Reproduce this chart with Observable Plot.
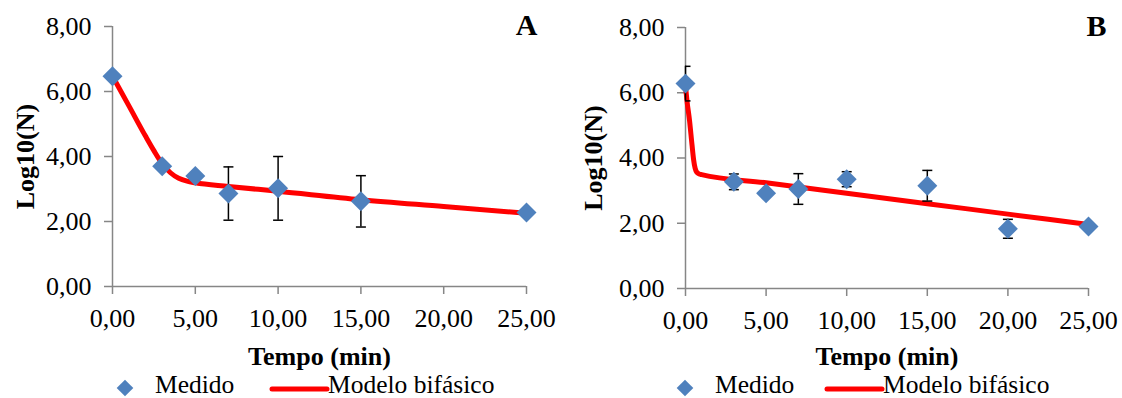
<!DOCTYPE html>
<html>
<head>
<meta charset="utf-8">
<script src="https://cdn.jsdelivr.net/npm/d3@7"></script>
<script src="https://cdn.jsdelivr.net/npm/@observablehq/plot@0.6"></script>
<style>
  body { margin: 0; background: #fff; }
  #wrap { position: relative; width: 1122px; height: 398px; overflow: hidden; background: #fff; }
  .panel { position: absolute; top: 0; }
  #legend { position: absolute; left: 0; top: 370px; }
  svg text { font-family: "Liberation Serif", "DejaVu Serif", serif !important; }
</style>
</head>
<body>
<div id="wrap">
  <div class="panel" id="panelA" style="left:0px"></div>
  <div class="panel" id="panelB" style="left:560px"></div>
  <svg id="legend" width="1122" height="28"></svg>
</div>
<script>
// Axis ticks
const timeTicks = [0, 5, 10, 15, 20, 25];
const logTicks = [0, 2, 4, 6, 8];

// Panel A: measured log10 counts (mean, standard deviation) over time
const timeA = [0, 3, 5, 7, 10, 15, 25];
const measuredA = [6.47, 3.70, 3.40, 2.86, 3.02, 2.62, 2.28];
const errorA = [0, 0, 0, 0.82, 0.98, 0.79, 0];
// Panel A: fitted biphasic model
const modelTimeA = [0, 1, 2, 2.5, 3, 3.5, 4, 4.5, 5, 7, 10, 15, 20, 25];
const modelLogA = [6.47, 5.55, 4.62, 4.18, 3.78, 3.50, 3.33, 3.24, 3.19, 3.08, 2.93, 2.67, 2.46, 2.25];

// Panel B: measured log10 counts (mean, standard deviation) over time
const timeB = [0, 3, 5, 7, 10, 15, 20, 25];
const measuredB = [6.28, 3.27, 2.92, 3.05, 3.35, 3.15, 1.83, 1.90];
const errorB = [0.53, 0.24, 0, 0.47, 0.23, 0.47, 0.29, 0];
// Panel B: fitted biphasic model
const modelTimeB = [0, 0.1, 0.25, 0.4, 0.5, 0.6, 0.7, 0.85, 1, 5, 10, 15, 20, 25];
const modelLogB = [6.20, 5.72, 5.15, 4.42, 3.96, 3.68, 3.56, 3.51, 3.49, 3.24, 2.92, 2.60, 2.28, 1.96];

const FONT = "Liberation Serif, DejaVu Serif, serif";
const AXIS_GRAY = "#868686";
const BLUE = "#4F81BD";
const RED = "#FF0000";
const fmt = d => d.toFixed(2).replace(".", ",");

// Horizontal bar used as the error-bar cap
const capSymbol = {
  draw(ctx, size) {
    const r = Math.sqrt(size / Math.PI);
    ctx.moveTo(-r, 0);
    ctx.lineTo(r, 0);
  }
};

function panel(cfg) {
  const pts = cfg.time.map((t, i) => ({t, y: cfg.measured[i], e: cfg.error[i]}));
  const bars = pts.filter(d => d.e > 0);
  const model = cfg.modelTime.map((t, i) => ({t, y: cfg.modelLog[i]}));
  return Plot.plot({
    width: cfg.width,
    height: 376,
    marginLeft: cfg.marginLeft,
    marginRight: cfg.marginRight,
    marginTop: cfg.marginTop,
    marginBottom: 376 - cfg.bottom,
    style: {fontFamily: FONT, fontSize: "26px", color: "#000", background: "#fff", overflow: "visible"},
    x: {domain: [0, 25]},
    y: {domain: [0, 8]},
    marks: [
      Plot.ruleX([0], {stroke: AXIS_GRAY, strokeWidth: 1.5}),
      Plot.ruleY([0], {stroke: AXIS_GRAY, strokeWidth: 1.5}),
      Plot.axisX({ticks: timeTicks, tickFormat: fmt, tickSize: 8, tickPadding: 14,
        stroke: AXIS_GRAY, strokeWidth: 1.5, fill: "#000", fontSize: 26, label: null}),
      Plot.axisY({ticks: logTicks, tickFormat: fmt, tickSize: 8, tickPadding: 13,
        stroke: AXIS_GRAY, strokeWidth: 1.5, fill: "#000", fontSize: 26, label: null}),
      Plot.line(model, {x: "t", y: "y", stroke: RED, strokeWidth: 5, curve: "monotone-x",
        strokeLinejoin: "round", strokeLinecap: "round"}),
      Plot.ruleX(bars, {x: "t", y1: d => d.y - d.e, y2: d => d.y + d.e, stroke: "#000", strokeWidth: 1.5}),
      Plot.dot(bars, {x: "t", y: d => d.y + d.e, symbol: capSymbol, r: 5, fill: "none", stroke: "#000", strokeWidth: 1.5, clip: true}),
      Plot.dot(bars, {x: "t", y: d => d.y - d.e, symbol: capSymbol, r: 5, fill: "none", stroke: "#000", strokeWidth: 1.5, clip: true}),
      Plot.dot(pts, {x: "t", y: "y", symbol: "diamond2", r: 9, fill: BLUE, stroke: "none"}),
      Plot.text([cfg.letter], {frameAnchor: "top-right", textAnchor: "middle", lineAnchor: "middle",
        dx: cfg.letterDx, dy: -1.5, fontSize: 30, fontWeight: "bold", fill: "#000"}),
      Plot.text(["Log10(N)"], {frameAnchor: "left", textAnchor: "middle", lineAnchor: "middle",
        rotate: -90, dx: cfg.yLabelDx, fontSize: 26, fontWeight: "bold", fill: "#000"}),
      Plot.text(["Tempo (min)"], {frameAnchor: "bottom", textAnchor: "middle", lineAnchor: "middle",
        dy: 356.5 - cfg.bottom, fontSize: 26, fontWeight: "bold", fill: "#000"})
    ]
  });
}

document.getElementById("panelA").append(panel({
  width: 560, marginLeft: 112, marginRight: 34, marginTop: 26, bottom: 286,
  time: timeA, measured: measuredA, error: errorA,
  modelTime: modelTimeA, modelLog: modelLogA,
  letter: "A", letterDx: 0, yLabelDx: -87
}));

document.getElementById("panelB").append(panel({
  width: 562, marginLeft: 125, marginRight: 34, marginTop: 27, bottom: 288,
  time: timeB, measured: measuredB, error: errorB,
  modelTime: modelTimeB, modelLog: modelLogB,
  letter: "B", letterDx: 8, yLabelDx: -92
}));

// Series legend under each panel
const legendItems = [
  {diamondX: 125, medidoX: 155, lineX1: 272, lineX2: 327, modelX: 328},
  {diamondX: 685, medidoX: 715, lineX1: 827, lineX2: 882, modelX: 883}
];
const leg = d3.select("#legend");
for (const it of legendItems) {
  const s = 8.3;
  leg.append("path")
    .attr("d", `M${it.diamondX},${18 - s}L${it.diamondX + s},18L${it.diamondX},${18 + s}L${it.diamondX - s},18Z`)
    .attr("fill", BLUE);
  leg.append("text").attr("x", it.medidoX).attr("y", 23)
    .attr("font-family", FONT).attr("font-size", 25.5).attr("fill", "#000").text("Medido");
  leg.append("line").attr("x1", it.lineX1).attr("x2", it.lineX2).attr("y1", 19).attr("y2", 19)
    .attr("stroke", RED).attr("stroke-width", 5).attr("stroke-linecap", "round");
  leg.append("text").attr("x", it.modelX).attr("y", 23)
    .attr("font-family", FONT).attr("font-size", 25.5).attr("fill", "#000").text("Modelo bifásico");
}
</script>
</body>
</html>
